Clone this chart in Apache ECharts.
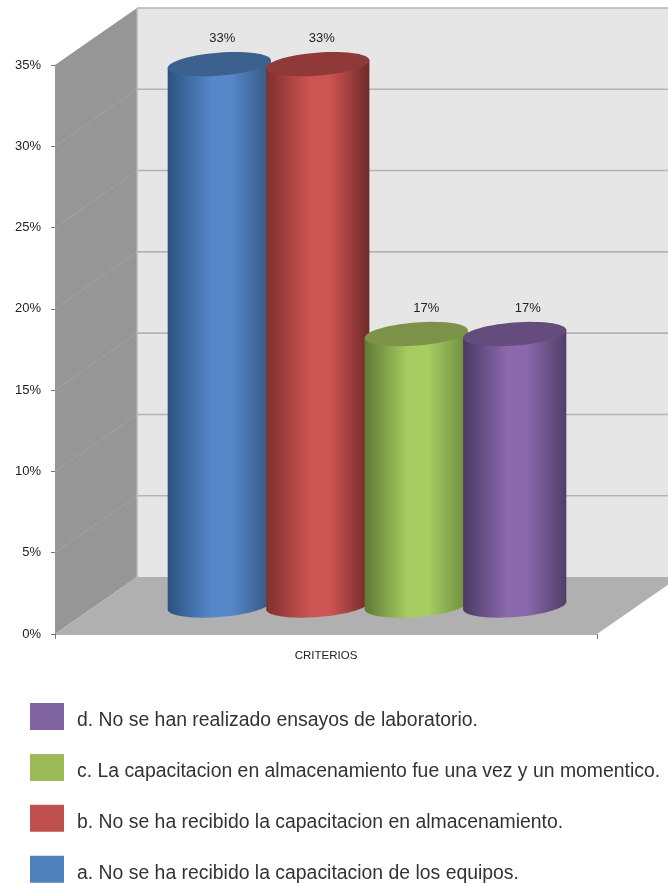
<!DOCTYPE html>
<html>
<head>
<meta charset="utf-8">
<style>html,body{margin:0;padding:0;background:#fff}#chart{width:668px;height:884px}</style>
<script src="https://cdn.jsdelivr.net/npm/echarts@6/dist/echarts.min.js"></script>
</head>
<body>
<div id="chart"></div>
<script>
var categories = ['CRITERIOS'];
var seriesNames = [
  'a. No se ha recibido la capacitacion de los equipos.',
  'b. No se ha recibido la capacitacion en almacenamiento.',
  'c. La capacitacion en almacenamiento fue una vez y un momentico.',
  'd. No se han realizado ensayos de laboratorio.'
];
var seriesValues = [33.3, 33.3, 16.7, 16.7];
var valueLabels = ['33%', '33%', '17%', '17%'];
var axisTicks = [0, 5, 10, 15, 20, 25, 30, 35];

var palette = [
  {legend:'#4f81bd', edge:'#2b5180', mid:'#5587c9', right:'#34587f', top:'#3c618f'},
  {legend:'#c0504d', edge:'#7f302e', mid:'#cc5452', right:'#6f2a29', top:'#8f3a38'},
  {legend:'#9bbb59', edge:'#5f7a36', mid:'#a7cc61', right:'#6d8a3e', top:'#7c9248'},
  {legend:'#8064a2', edge:'#4a3a63', mid:'#8a68ab', right:'#4f3f68', top:'#644c7c'}
];
var DEPTH_X = 82, DEPTH_Y = -57;
var SLOT = 0.1817, RADIUS = 0.0955, MINOR = 11.5, TILT = 0.0785;
var LABEL_DX = [3, 4, 10, 13], LABEL_DY = -26;

function ellipsePts(cx, cy, a, b, t0, t1, n) {
  var pts = [];
  for (var k = 0; k <= n; k++) {
    var t = t0 + (t1 - t0) * k / n;
    pts.push([
      cx + a * Math.cos(t) * Math.cos(TILT) + b * Math.sin(t) * Math.sin(TILT),
      cy - a * Math.cos(t) * Math.sin(TILT) + b * Math.sin(t) * Math.cos(TILT)
    ]);
  }
  return pts;
}

function renderRoom(params, api) {
  var band = api.size([1, 0])[0];
  var o = api.coord([0, 0]);
  var xL = o[0] - band / 2, xR = o[0] + band / 2;
  var y0 = o[1], yT = api.coord([0, axisTicks[axisTicks.length - 1]])[1];
  var kids = [
    {type:'polygon', shape:{points:[[xL+DEPTH_X,yT+DEPTH_Y],[xR+DEPTH_X,yT+DEPTH_Y],[xR+DEPTH_X,y0+DEPTH_Y],[xL+DEPTH_X,y0+DEPTH_Y]]}, style:{fill:'#e6e6e6'}},
    {type:'polygon', shape:{points:[[xL,yT],[xL+DEPTH_X,yT+DEPTH_Y],[xL+DEPTH_X,y0+DEPTH_Y],[xL,y0]]}, style:{fill:'#969696'}},
    {type:'polygon', shape:{points:[[xL,y0],[xL+DEPTH_X,y0+DEPTH_Y],[xR+DEPTH_X,y0+DEPTH_Y],[xR,y0]]}, style:{fill:'#b0b0b0'}}
  ];
  axisTicks.forEach(function (v) {
    var y = api.coord([0, v])[1];
    if (v > 0) {
      kids.push({type:'line', shape:{x1:xL+DEPTH_X,y1:y+DEPTH_Y,x2:xR+DEPTH_X,y2:y+DEPTH_Y}, style:{stroke:'#b4b4b4',lineWidth:1.6}});
      if (v < 35) kids.push({type:'line', shape:{x1:xL,y1:y,x2:xL+DEPTH_X,y2:y+DEPTH_Y}, style:{stroke:'#a2a2a2',lineWidth:1}});
    }
  });
  kids.push({type:'line', shape:{x1:xL+DEPTH_X,y1:yT+DEPTH_Y,x2:xL+DEPTH_X,y2:y0+DEPTH_Y}, style:{stroke:'#b4b4b4',lineWidth:1.5}});
  return {type:'group', silent:true, children:kids};
}

function renderCylinder(i) {
  return function (params, api) {
    var band = api.size([1, 0])[0];
    var top = api.coord([0, api.value(1)]);
    var base = api.coord([0, 0]);
    var a = band * RADIUS;
    var cx = top[0] + (i - 1.5) * SLOT * band + DEPTH_X / 2;
    var cyTop = top[1] + DEPTH_Y / 2;
    var cyBase = base[1] + DEPTH_Y / 2;
    var bodyPts = ellipsePts(cx, cyBase, a, MINOR, 0, Math.PI, 40)
      .concat([[cx - a * Math.cos(TILT), cyTop + a * Math.sin(TILT)], [cx + a * Math.cos(TILT), cyTop - a * Math.sin(TILT)]]);
    var p = palette[i];
    return {type:'group', children:[
      {type:'polygon', shape:{points:bodyPts}, style:{fill:new echarts.graphic.LinearGradient(0,0,1,0,[
        {offset:0,color:p.edge},{offset:0.42,color:p.mid},{offset:0.62,color:p.mid},{offset:1,color:p.right}])}},
      {type:'polygon', shape:{points:ellipsePts(cx, cyTop, a, MINOR, 0, Math.PI*2, 60)}, style:{fill:p.top}},
      {type:'text', style:{x:cx + LABEL_DX[i], y:cyTop + LABEL_DY, text:valueLabels[i], align:'center', verticalAlign:'middle',
        fill:'#222', font:'13px "Liberation Sans", sans-serif'}}
    ]};
  };
}

var series = [{
  name:'plano', type:'custom', coordinateSystem:'cartesian2d', z:1, silent:true,
  renderItem:renderRoom, encode:{x:0,y:1}, data:[[categories[0], 0]]
}];
seriesNames.forEach(function (n, i) {
  series.push({
    name:n, type:'custom', coordinateSystem:'cartesian2d', z:2 + i,
    itemStyle:{color:palette[i].legend},
    renderItem:renderCylinder(i), encode:{x:0,y:1}, data:[[categories[0], seriesValues[i]]]
  });
});

var chart = echarts.init(document.getElementById('chart'), null, {renderer:'canvas'});
chart.setOption({
  animation:false,
  backgroundColor:'#ffffff',
  grid:{left:55, right:71, top:65, bottom:250, containLabel:false},
  xAxis:{type:'category', data:categories,
    axisLine:{lineStyle:{color:'#9a9a9a',width:1.5}},
    axisTick:{show:true,length:5,lineStyle:{color:'#777'}},
    axisLabel:{color:'#222',fontSize:11.5,margin:16,fontFamily:'Liberation Sans'}},
  yAxis:{type:'value', min:0, max:35, interval:5, z:10,
    axisLine:{show:false},
    axisTick:{show:true,length:4,lineStyle:{color:'#777'}},
    splitLine:{show:false},
    axisLabel:{formatter:'{value}%',color:'#222',fontSize:13,margin:14,fontFamily:'Liberation Sans'}},
  legend:{orient:'vertical', left:30, top:703, padding:0, height:400, icon:'rect', itemWidth:34, itemHeight:27, itemGap:23.4, selectedMode:false,
    data:seriesNames.slice().reverse(),
    formatter:'{t|{name}}',
    textStyle:{color:'#333',fontSize:19.4,fontFamily:'Liberation Sans',padding:[0,0,0,8],
      rich:{t:{color:'#333',fontSize:19.4,fontFamily:'Liberation Sans',padding:[9,0,0,0]}}}},
  series:series
});
</script>
</body>
</html>
